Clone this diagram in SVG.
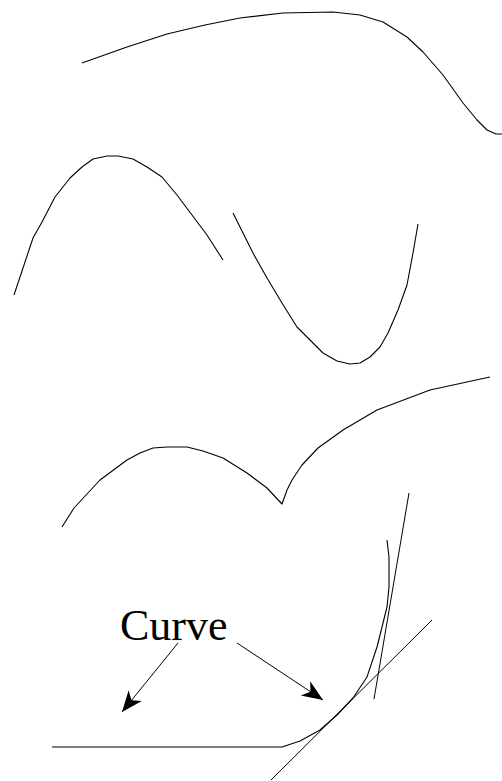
<svg xmlns="http://www.w3.org/2000/svg" width="502" height="781" viewBox="0 0 502 781">
<style>
.c{fill:none;stroke:#000;stroke-width:1.1;stroke-linejoin:round}
.l{fill:none;stroke:#000;stroke-width:1}
.t{font-family:"Liberation Serif","Times New Roman",serif;font-size:44px;fill:#000}
</style>
<defs>
<marker id="ah" markerUnits="userSpaceOnUse" markerWidth="24" markerHeight="20" viewBox="-22 -10 24 20" refX="0" refY="0" orient="auto">
<path d="M0,0 L-21,-8.5 L-15,0 L-21,8.5 Z" fill="#000"/>
</marker>
</defs>
<rect width="502" height="781" fill="#fff"/>
<g id="curve1">
<polyline class="c" points="82,63 127,47 167,34 205,25 240,18 283,13 333,12 360,15 383,22 407,37 423,52 443,75 463,103 477,120 487,130 496,134 502,134"/>
</g>
<g id="curve2">
<polyline class="c" points="14,295 33,238 42,222 55,197 70,178 82,167 93,159 107,156 118,156 133,159 147,167 162,177 177,195 192,215 207,235 223,260"/>
</g>
<g id="curve3">
<polyline class="c" points="233,213 253,253 267,278 282,303 297,327 310,340 323,353 337,361 350,364 360,363 370,357 380,347 388,333 398,310 407,285 413,253 418,224"/>
</g>
<g id="curve4">
<polyline class="c" points="62,527 74,508 100,480 127,460 140,453 153,448 167,447 187,447 203,451 223,458 247,473 267,488 282,504 287,490 292,480 302,465 318,448 343,430 377,410 430,390 490,377"/>
</g>
<g id="curve5">
<polyline class="c" points="52,747 282,747 300,741 320,730 337,715 353,698 367,677 377,647 387,607 389,587 389,557 387,540"/>
</g>
<g id="tangents">
<line class="l" x1="271" y1="780" x2="432" y2="620"/>
<line class="l" x1="374" y1="699" x2="409" y2="493"/>
</g>
<g id="label">
<text class="t" x="120" y="640">Curve</text>
</g>
<g id="connectors">
<line class="l" x1="178" y1="643" x2="122" y2="712" marker-end="url(#ah)"/>
<line class="l" x1="237" y1="643" x2="323" y2="700" marker-end="url(#ah)"/>
</g>
</svg>
